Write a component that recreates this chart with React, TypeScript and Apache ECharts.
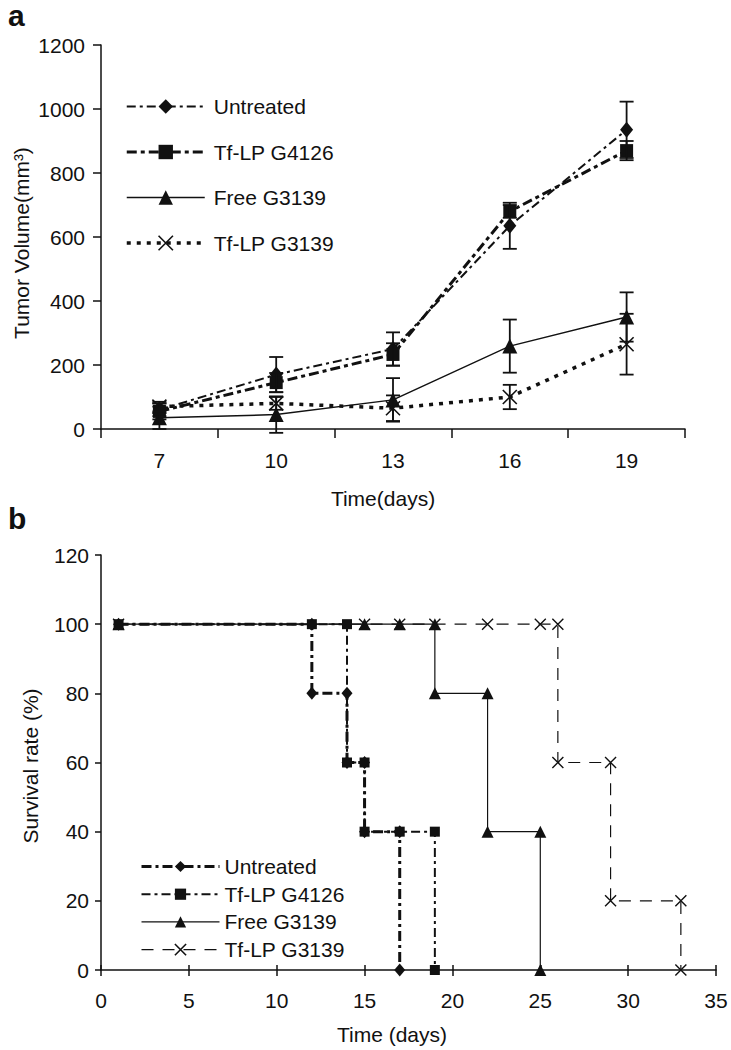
import React, { useEffect, useRef } from 'react';
import * as echarts from 'echarts';

const FONT = "'Liberation Sans', Arial, Helvetica, sans-serif";
const INK = '#111111';
const FS = 21;

// ---------- Panel a: tumor volume ----------
const days = ['7', '10', '13', '16', '19'];
const untreatedVol = [60, 170, 250, 635, 935];
const untreatedErr = [20, 55, 52, 72, 88];
const g4126Vol = [55, 145, 233, 680, 870];
const g4126Err = [25, 30, 35, 20, 30];
const freeVol = [35, 45, 91, 259, 350];
const freeErr = [35, 57, 68, 83, 77];
const tflpVol = [70, 80, 65, 100, 265];
const tflpErr = [15, 20, 40, 38, 95];

// ---------- Panel b: survival ----------
const untreatedDays = [1, 12, 12, 14, 14, 15, 15, 17, 17];
const untreatedSurv = [100, 100, 80, 80, 60, 60, 40, 40, 0];
const g4126Days = [1, 12, 14, 14, 15, 15, 17, 19, 19];
const g4126Surv = [100, 100, 100, 60, 60, 40, 40, 40, 0];
const freeDays = [1, 15, 17, 19, 19, 22, 22, 25, 25];
const freeSurv = [100, 100, 100, 100, 80, 80, 40, 40, 0];
const tflpDays = [1, 15, 17, 19, 22, 25, 26, 26, 29, 29, 33, 33];
const tflpSurv = [100, 100, 100, 100, 100, 100, 100, 60, 60, 20, 20, 0];

const names = ['Untreated', 'Tf-LP G4126', 'Free G3139', 'Tf-LP G3139'];

const X_SYMBOL = 'path://M0,0L10,10M10,0L0,10';

const zip = (a: number[], b: number[]) => a.map((v, i) => [v, b[i]]);
const errData = (v: number[], e: number[]) => v.map((val, i) => [i, val - e[i], val + e[i]]);

export default function App() {
  const ref = useRef<HTMLDivElement>(null);
  useEffect(() => {
    document.body.style.margin = '0';
    if (!ref.current) return;
    const chart = echarts.init(ref.current, undefined, { renderer: 'svg' });

    const axisLabel = (margin: number) => ({
      fontFamily: FONT, fontSize: FS, color: INK, margin,
      formatter: (v: any) => String(v),
    });
    const axisLine = { show: true, lineStyle: { color: INK, width: 1.5 } };

    const errSeries = (v: number[], e: number[]) => ({
      type: 'custom',
      xAxisIndex: 0,
      yAxisIndex: 0,
      data: errData(v, e),
      encode: { x: 0, y: [1, 2] },
      z: 4,
      renderItem: (params: any, api: any) => {
        const i = api.value(0);
        const pLo = api.coord([i, api.value(1)]);
        const pHi = api.coord([i, api.value(2)]);
        const w = 7;
        const style = { stroke: INK, lineWidth: 1.8, fill: 'none' };
        return {
          type: 'group',
          children: [
            { type: 'line', shape: { x1: pLo[0], y1: pLo[1], x2: pHi[0], y2: pHi[1] }, style },
            { type: 'line', shape: { x1: pLo[0] - w, y1: pLo[1], x2: pLo[0] + w, y2: pLo[1] }, style },
            { type: 'line', shape: { x1: pHi[0] - w, y1: pHi[1], x2: pHi[0] + w, y2: pHi[1] }, style },
          ],
        };
      },
    });

    const topLine = {
      Untreated: { color: INK, width: 2, type: [9, 4, 3, 4] },
      G4126: { color: INK, width: 3, type: [10, 4, 4, 4] },
      Free: { color: INK, width: 1.5, type: 'solid' },
      TfLP: { color: INK, width: 3.5, type: [4, 6] },
    };
    const botLine = {
      Untreated: { color: INK, width: 3, type: [10, 4, 3, 4] },
      G4126: { color: INK, width: 2, type: [9, 4, 3, 4] },
      Free: { color: INK, width: 1.2, type: 'solid' },
      TfLP: { color: INK, width: 1.2, type: [12, 9] },
    };
    const xStyle = { color: INK, borderColor: INK, borderWidth: 1.6 };

    const option: any = {
      animation: false,
      backgroundColor: '#ffffff',
      textStyle: { fontFamily: FONT },
      grid: [
        { left: 101, top: 45, width: 584, height: 384 },
        { left: 101, top: 555, width: 615, height: 415 },
      ],
      xAxis: [
        {
          gridIndex: 0,
          type: 'category',
          data: days,
          boundaryGap: true,
          axisLine,
          axisTick: { show: true, length: 9, lineStyle: { color: INK, width: 1.5 } },
          axisLabel: axisLabel(21),
          splitLine: { show: false },
        },
        {
          gridIndex: 1,
          type: 'value',
          position: 'bottom',
          min: 0,
          max: 35,
          interval: 5,
          axisLine,
          axisTick: { show: true, length: 6, lineStyle: { color: INK, width: 1.5 } },
          axisLabel: axisLabel(20),
          splitLine: { show: false },
        },
        {
          gridIndex: 1,
          type: 'value',
          position: 'bottom',
          offset: 0,
          min: 0,
          max: 35,
          interval: 5,
          axisLine: { show: false },
          axisTick: { show: true, inside: true, length: 5, lineStyle: { color: INK, width: 1.5 } },
          axisLabel: { show: false },
          splitLine: { show: false },
        },
      ],
      yAxis: [
        {
          gridIndex: 0,
          type: 'value',
          min: 0,
          max: 1200,
          interval: 200,
          axisLine,
          axisTick: { show: true, length: 8, lineStyle: { color: INK, width: 1.5 } },
          axisLabel: axisLabel(16),
          splitLine: { show: false },
        },
        {
          gridIndex: 1,
          type: 'value',
          min: 0,
          max: 120,
          interval: 20,
          axisLine,
          axisTick: { show: true, length: 6, lineStyle: { color: INK, width: 1.5 } },
          axisLabel: axisLabel(12),
          splitLine: { show: false },
        },
      ],
      legend: [
        {
          orient: 'vertical',
          left: 120,
          top: 91,
          itemWidth: 78,
          itemHeight: 18,
          itemGap: 24.5,
          selectedMode: false,
          textStyle: { fontFamily: FONT, fontSize: FS, color: INK, padding: [0, 0, 0, 4] },
          data: [
            { name: names[0], lineStyle: topLine.Untreated },
            { name: names[1], lineStyle: topLine.G4126 },
            { name: names[2], lineStyle: topLine.Free },
            { name: names[3], lineStyle: topLine.TfLP, itemStyle: xStyle },
          ],
        },
        {
          orient: 'vertical',
          left: 135,
          top: 851,
          itemWidth: 78,
          itemHeight: 14,
          itemGap: 6.7,
          selectedMode: false,
          textStyle: { fontFamily: FONT, fontSize: FS, color: INK, padding: [0, 0, 0, 0] },
          data: [
            { name: names[0], lineStyle: botLine.Untreated },
            { name: names[1], lineStyle: botLine.G4126 },
            { name: names[2], lineStyle: botLine.Free },
            { name: names[3], lineStyle: { ...botLine.TfLP, width: 1.4 }, itemStyle: xStyle },
          ],
        },
      ],
      series: [
        // Panel a
        {
          type: 'line', name: names[0], xAxisIndex: 0, yAxisIndex: 0, data: untreatedVol,
          symbol: 'diamond', symbolSize: [13, 16], lineStyle: topLine.Untreated, itemStyle: { color: INK }, z: 3,
        },
        {
          type: 'line', name: names[1], xAxisIndex: 0, yAxisIndex: 0, data: g4126Vol,
          symbol: 'rect', symbolSize: 13, lineStyle: topLine.G4126, itemStyle: { color: INK }, z: 3,
        },
        {
          type: 'line', name: names[2], xAxisIndex: 0, yAxisIndex: 0, data: freeVol,
          symbol: 'triangle', symbolSize: 15, lineStyle: topLine.Free, itemStyle: { color: INK }, z: 3,
        },
        {
          type: 'line', name: names[3], xAxisIndex: 0, yAxisIndex: 0, data: tflpVol,
          symbol: X_SYMBOL, symbolSize: 14, lineStyle: topLine.TfLP, itemStyle: xStyle, z: 3,
        },
        errSeries(untreatedVol, untreatedErr),
        errSeries(g4126Vol, g4126Err),
        errSeries(freeVol, freeErr),
        errSeries(tflpVol, tflpErr),
        // Panel b
        {
          type: 'line', name: names[3], xAxisIndex: 1, yAxisIndex: 1, data: zip(tflpDays, tflpSurv),
          symbol: X_SYMBOL, symbolSize: 11, lineStyle: botLine.TfLP, itemStyle: { ...xStyle, borderWidth: 1.4 }, z: 2,
        },
        {
          type: 'line', name: names[2], xAxisIndex: 1, yAxisIndex: 1, data: zip(freeDays, freeSurv),
          symbol: 'triangle', symbolSize: 12, lineStyle: botLine.Free, itemStyle: { color: INK }, z: 3,
        },
        {
          type: 'line', name: names[0], xAxisIndex: 1, yAxisIndex: 1, data: zip(untreatedDays, untreatedSurv),
          symbol: 'diamond', symbolSize: [11, 13], lineStyle: botLine.Untreated, itemStyle: { color: INK }, z: 4,
        },
        {
          type: 'line', name: names[1], xAxisIndex: 1, yAxisIndex: 1, data: zip(g4126Days, g4126Surv),
          symbol: 'rect', symbolSize: 10, lineStyle: botLine.G4126, itemStyle: { color: INK }, z: 5,
        },
      ],
      graphic: [
        { type: 'text', x: 8, y: 30, style: { text: 'a', font: `bold 30px ${FONT}`, fill: INK, verticalAlign: 'bottom' } },
        { type: 'text', x: 8, y: 533, style: { text: 'b', font: `bold 30px ${FONT}`, fill: INK, verticalAlign: 'bottom' } },
        {
          type: 'text', x: 21, y: 243, rotation: Math.PI / 2,
          style: { text: 'Tumor Volume(mm³)', font: `${FS}px ${FONT}`, fill: INK, align: 'center', verticalAlign: 'middle' },
        },
        {
          type: 'text', x: 30, y: 766, rotation: Math.PI / 2,
          style: { text: 'Survival rate (%)', font: `${FS}px ${FONT}`, fill: INK, align: 'center', verticalAlign: 'middle' },
        },
        {
          type: 'text', x: 383, y: 498,
          style: { text: 'Time(days)', font: `${FS}px ${FONT}`, fill: INK, align: 'center', verticalAlign: 'middle' },
        },
        {
          type: 'text', x: 392, y: 1034,
          style: { text: 'Time (days)', font: `${FS}px ${FONT}`, fill: INK, align: 'center', verticalAlign: 'middle' },
        },
      ],
    };

    chart.setOption(option);
    return () => chart.dispose();
  }, []);

  return <div ref={ref} style={{ width: 731, height: 1050 }} />;
}
